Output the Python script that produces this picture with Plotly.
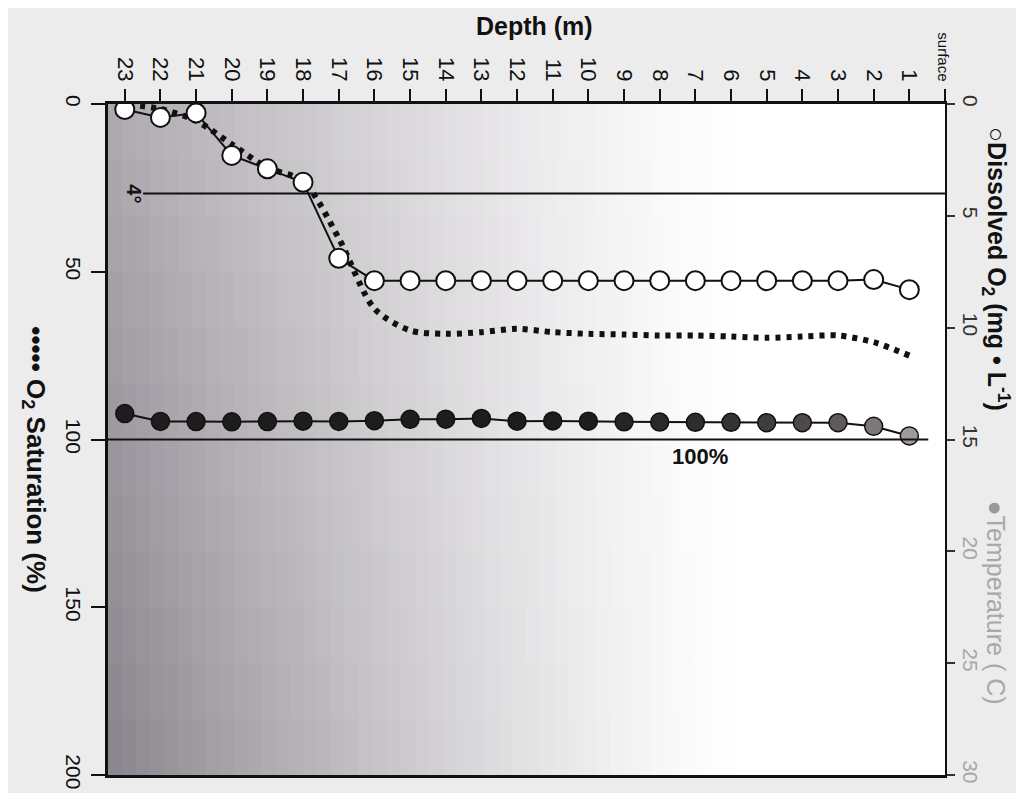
import plotly.graph_objects as go

# depth in metres, surface first
depth = list(range(1, 24))
dissolved_o2 = [8.3, 7.85, 7.9, 7.9, 7.9, 7.9, 7.9, 7.9, 7.9, 7.9, 7.9, 7.9,
                7.9, 7.9, 7.9, 7.9, 6.9, 3.5, 2.9, 2.3, 0.4, 0.6, 0.25]
temperature = [14.84, 14.41, 14.25, 14.25, 14.25, 14.23, 14.23, 14.22, 14.21, 14.18, 14.17, 14.18,
               14.06, 14.09, 14.1, 14.16, 14.19, 14.18, 14.2, 14.21, 14.2, 14.19, 13.84]
o2_saturation = [75, 71, 69, 69.3, 69.7, 69.3, 69, 69, 68.7, 68.5, 68, 67,
                 68, 68.5, 67.5, 61, 40, 23, 19, 12, 5, 1.5, 0]

depth_ticks = list(range(0, 24))
depth_labels = ['<span style="font-size:15px">surface</span>'] + [str(d) for d in range(1, 24)]
sat_ticks = [0, 50, 100, 150, 200]
right_ticks = [0, 5, 10, 15, 20, 25, 30]
right_labels = ['0', '5', '10', '15',
                '<span style="color:#a8a8a8">20</span>',
                '<span style="color:#a8a8a8">25</span>',
                '<span style="color:#a8a8a8">30</span>']
sat_ref = 100
temp_ref = 4

# marker shading of the temperature dots, lighter near the surface
temp_colors = ['#a09a9e', '#7d777b', '#5f5a5d', '#4d484b', '#403c3f', '#363335', '#2e2c2d',
               '#2a2829', '#262425'] + ['#1e1c1d'] * 14

FONT = 'Liberation Sans, Arial, sans-serif'

fig = go.Figure()

# photo-like grey shading on the left of the plot area
ncols, nrows = 60, 12
for i in range(ncols):
    for j in range(nrows):
        t = (i + 0.5) / ncols
        yf = (j + 0.5) / nrows  # 0 = bottom
        d = max(0.0, 1 - t / 0.75) ** 1.3
        v = 255 - d * (78 + 38 * (1 - yf))
        r, g, b = int(v - 2 * d), int(v - 7 * d), int(v)
        fig.add_shape(type='rect', xref='paper', yref='paper',
                      x0=i / ncols, x1=(i + 1.05) / ncols,
                      y0=j / nrows, y1=(j + 1.05) / nrows,
                      fillcolor=f'rgb({r},{g},{b})', line=dict(width=0), layer='below')

fig.add_trace(go.Scatter(
    x=depth, y=o2_saturation, mode='lines', yaxis='y',
    line=dict(color='#111', width=6, dash='5px,6px', shape='spline', smoothing=0.8)))
fig.add_trace(go.Scatter(
    x=depth, y=dissolved_o2, mode='lines+markers', yaxis='y2',
    line=dict(color='#111', width=2),
    marker=dict(size=19, color='white', line=dict(color='#111', width=2))))
fig.add_trace(go.Scatter(
    x=depth, y=temperature, mode='lines+markers', yaxis='y2',
    line=dict(color='#111', width=2),
    marker=dict(size=18, color=temp_colors, line=dict(color='#111', width=1.5))))

# reference lines
fig.add_shape(type='line', xref='paper', yref='y', x0=0, x1=0.98, y0=sat_ref, y1=sat_ref,
              line=dict(color='#111', width=2))
fig.add_shape(type='line', xref='paper', yref='y2', x0=0.042, x1=1, y0=temp_ref, y1=temp_ref,
              line=dict(color='#111', width=2))

fig.add_annotation(text='<b>100%</b>', xref='paper', yref='y', x=0.707, y=sat_ref,
                   xanchor='center', yanchor='top', yshift=-2, showarrow=False,
                   font=dict(size=22, color='#111'))
fig.add_annotation(text='<b>4°</b>', xref='paper', yref='y2', x=0.03, y=temp_ref,
                   xanchor='center', yanchor='middle', textangle=90, showarrow=False,
                   font=dict(size=20, color='#111'))

fig.add_annotation(text='<b>Depth (m)</b>', xref='paper', yref='paper', x=0.51, y=1.116,
                   xanchor='center', yanchor='middle', showarrow=False,
                   font=dict(size=25, color='#111'))
fig.add_annotation(text='<b>••••• O<sub>2</sub> Saturation (%)</b>', xref='paper', yref='paper',
                   x=-0.088, y=0.47, xanchor='center', yanchor='middle', textangle=90,
                   showarrow=False, font=dict(size=26, color='#111'))
fig.add_annotation(text='○<b>Dissolved O<sub>2</sub> (mg • L<sup>-1</sup>)</b>',
                   xref='paper', yref='paper', x=1.061, y=0.754,
                   xanchor='center', yanchor='middle', textangle=90, showarrow=False,
                   font=dict(size=25, color='#111'))
fig.add_annotation(text='<span style="color:#999">●</span>Temperature ( C)',
                   xref='paper', yref='paper', x=1.061, y=0.257,
                   xanchor='center', yanchor='middle', textangle=90, showarrow=False,
                   font=dict(size=25, color='#a8a8a8'))

fig.update_layout(
    width=1024, height=793,
    margin=dict(l=100, r=87, t=96, b=23),
    showlegend=False,
    paper_bgcolor='#ececec',
    plot_bgcolor='white',
    font=dict(family=FONT, color='#111'),
    xaxis=dict(range=[23.47, 0], side='top', tickmode='array', tickvals=depth_ticks,
               ticktext=depth_labels, tickangle=90, ticks='outside', ticklen=12, tickwidth=2,
               tickcolor='#111', showline=True, linecolor='#111', linewidth=2.5, mirror=True,
               showgrid=False, zeroline=False, tickfont=dict(size=22, color='#111')),
    yaxis=dict(range=[200, 0], tickmode='array', tickvals=sat_ticks, tickangle=90,
               ticks='outside', ticklen=14, tickwidth=2, tickcolor='#111',
               showline=True, linecolor='#111', linewidth=3, showgrid=False, zeroline=False,
               tickfont=dict(size=21, color='#111')),
    yaxis2=dict(range=[30, 0], overlaying='y', side='right', tickmode='array',
                tickvals=right_ticks, ticktext=right_labels, tickangle=90,
                ticks='outside', ticklen=8, tickwidth=1.5, tickcolor='#333',
                showline=True, linecolor='#111', linewidth=2, showgrid=False, zeroline=False,
                tickfont=dict(size=21, color='#333')),
)

fig.write_html("out.html")
